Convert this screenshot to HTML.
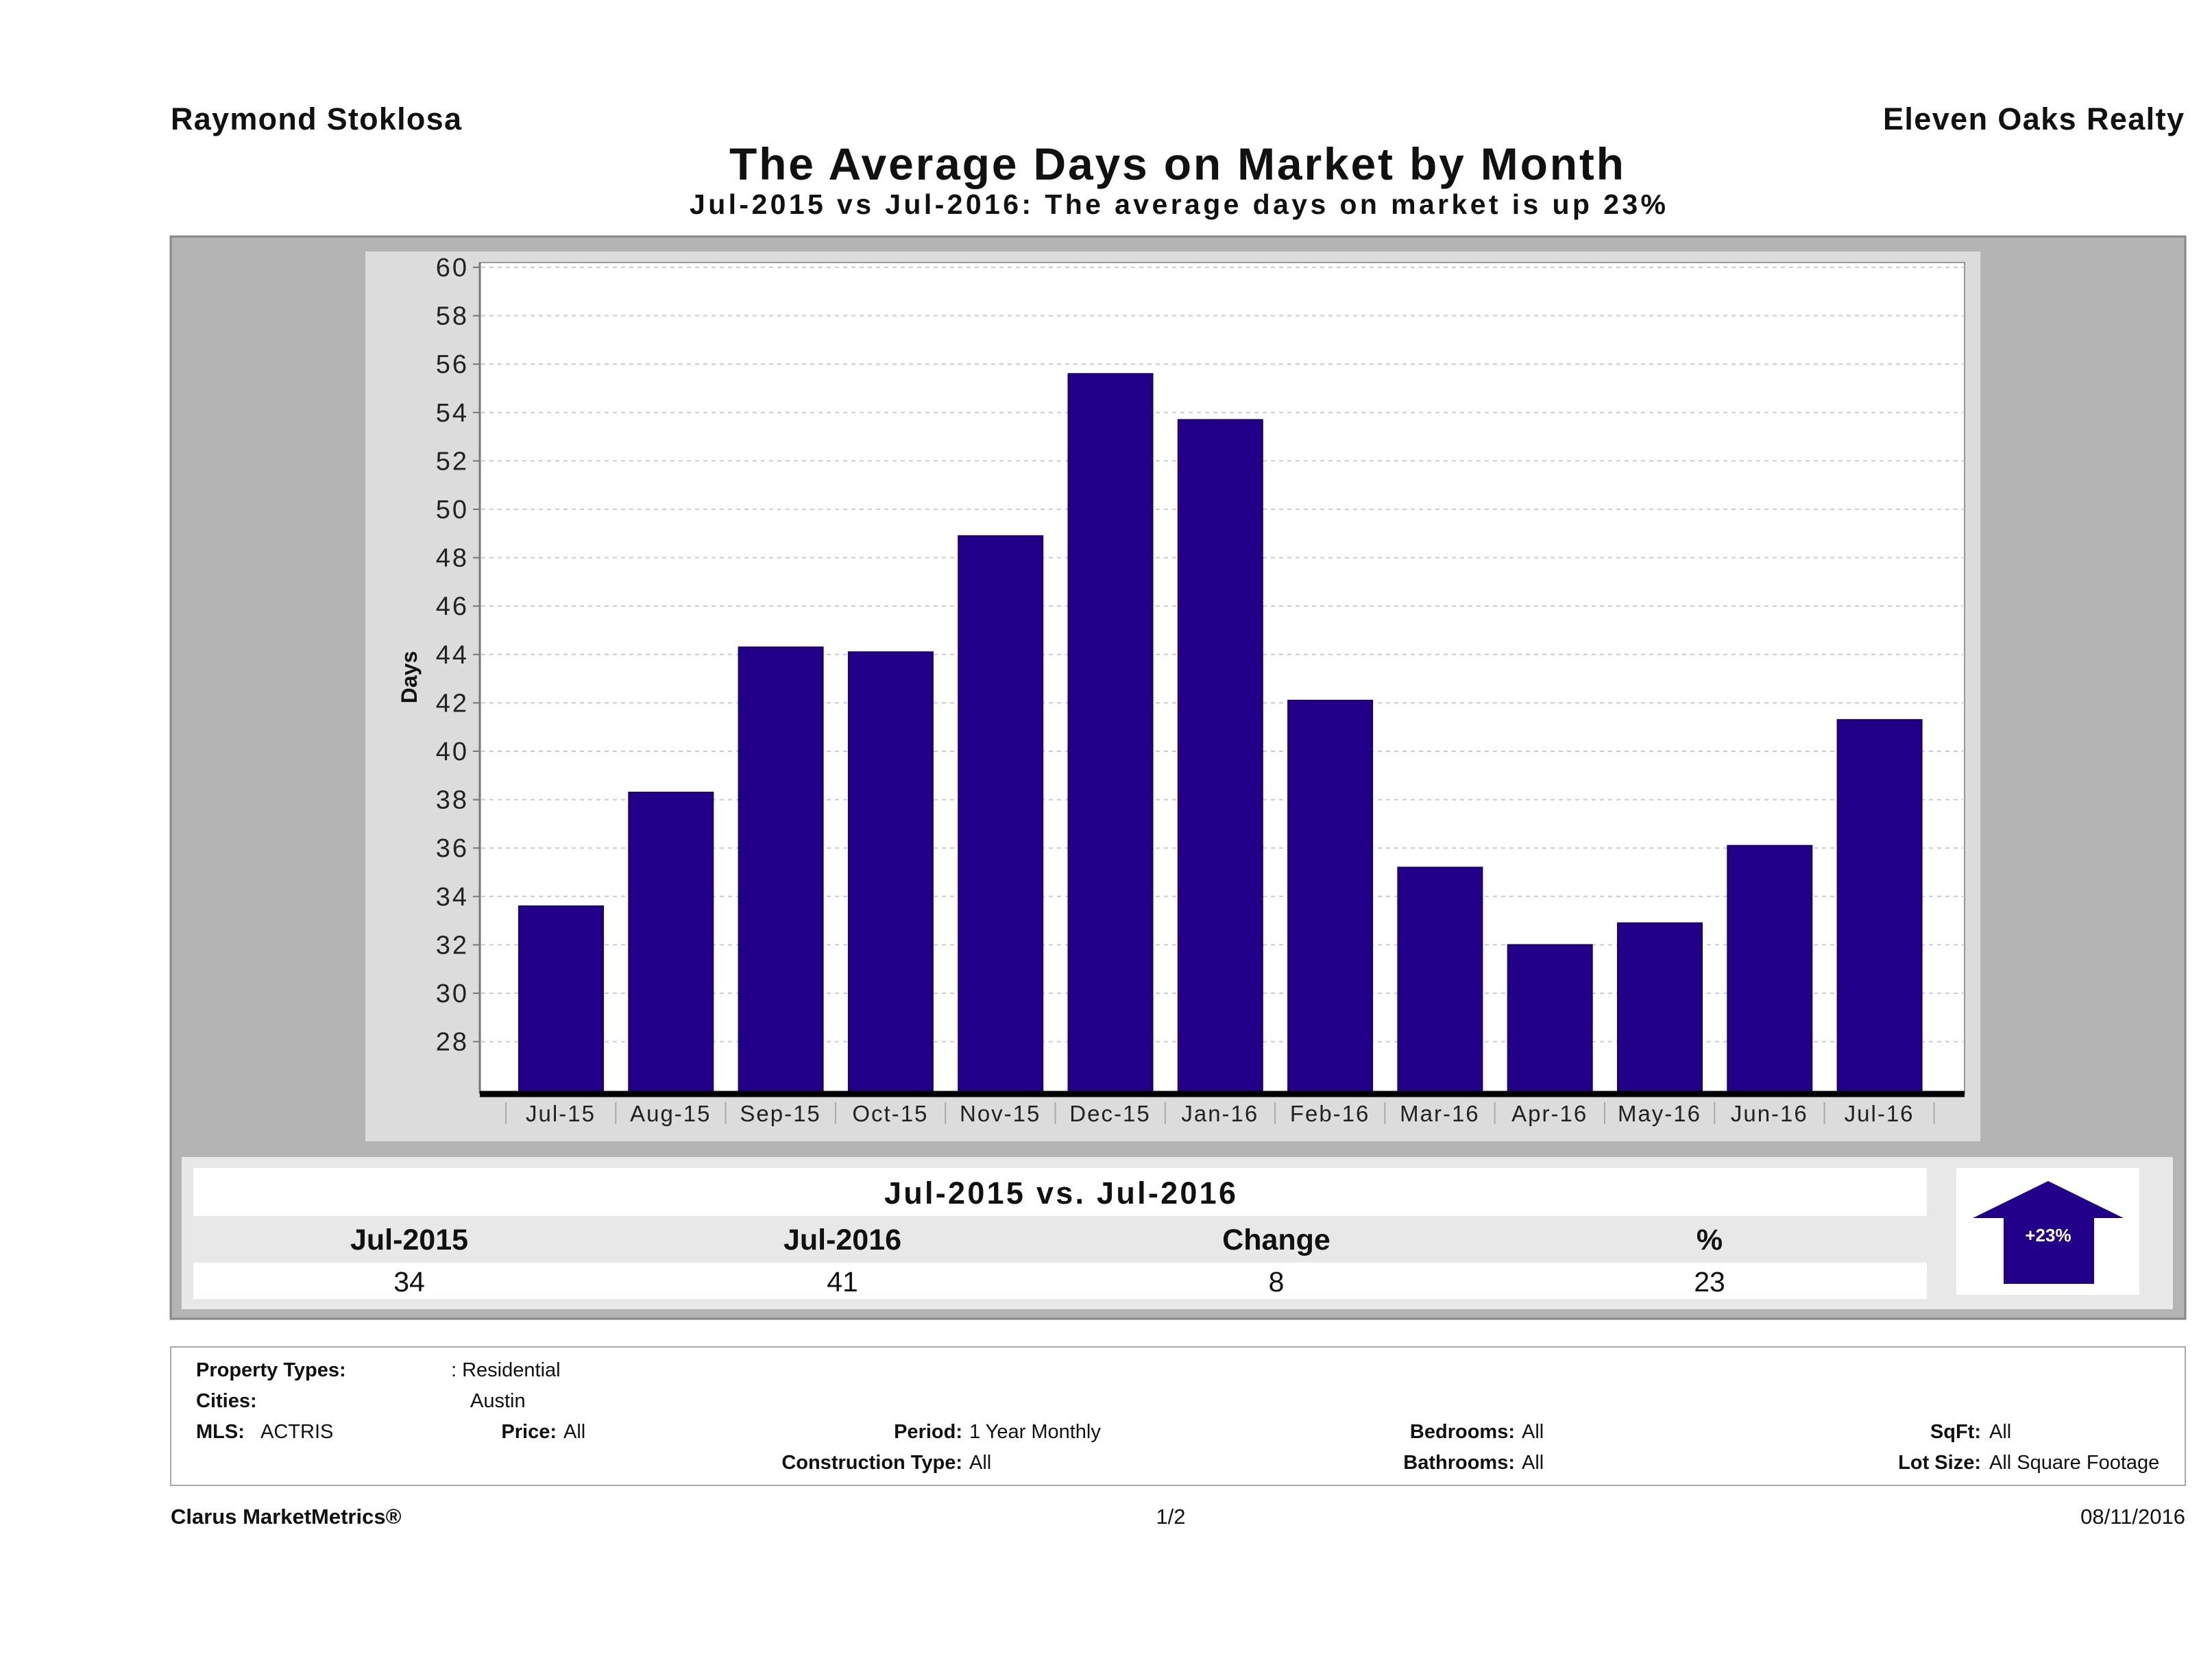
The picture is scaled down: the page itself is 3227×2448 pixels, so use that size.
<!DOCTYPE html>
<html><head><meta charset="utf-8"><style>
body{margin:0;background:#fff;}
svg{display:block;font-family:"Liberation Sans",sans-serif;}
</style></head><body>
<svg width="3227" height="2448" viewBox="0 0 3227 2448" xmlns="http://www.w3.org/2000/svg">
<text x="249" y="189" font-size="45" font-weight="bold" fill="#111" textLength="424" lengthAdjust="spacing">Raymond Stoklosa</text>
<text x="2747" y="189" font-size="45" font-weight="bold" fill="#111" textLength="439" lengthAdjust="spacing">Eleven Oaks Realty</text>
<text x="1064" y="262" font-size="66" font-weight="bold" fill="#111" textLength="1305" lengthAdjust="spacing">The Average Days on Market by Month</text>
<text x="1006" y="312" font-size="41" font-weight="bold" fill="#111" textLength="1424" lengthAdjust="spacing">Jul-2015 vs Jul-2016: The average days on market is up 23%</text>

<rect x="249" y="345" width="2939" height="1579" fill="#b4b4b4" stroke="#888" stroke-width="3"/>
<rect x="533" y="367" width="2356" height="1298" fill="#dcdcdc"/>
<rect x="700" y="383" width="2166" height="1212" fill="#fff" stroke="#999" stroke-width="2"/>
<g id="grid"></g>
<g id="yaxis"></g>
<g id="bars"></g>
<g id="xaxis"></g>
<line x1="700" y1="383" x2="700" y2="1595" stroke="#777" stroke-width="3"/>
<line x1="700" y1="1596" x2="2866" y2="1596" stroke="#000" stroke-width="9"/>
<text transform="translate(608,988) rotate(-90)" font-size="32" font-weight="bold" text-anchor="middle" fill="#111">Days</text>

<rect x="265" y="1688" width="2905" height="222" fill="#e8e8e8"/>
<rect x="282" y="1704" width="2529" height="70" fill="#fff"/>
<text x="1290" y="1756" font-size="45" font-weight="bold" fill="#111" textLength="513" lengthAdjust="spacing">Jul-2015 vs. Jul-2016</text>
<g font-size="43" font-weight="bold" text-anchor="middle" fill="#111">
<text x="597" y="1823">Jul-2015</text>
<text x="1229" y="1823">Jul-2016</text>
<text x="1862" y="1823">Change</text>
<text x="2494" y="1823">%</text>
</g>
<rect x="282" y="1842" width="2529" height="53" fill="#fff"/>
<g font-size="41" text-anchor="middle" fill="#111">
<text x="597" y="1884">34</text>
<text x="1229" y="1884">41</text>
<text x="1862" y="1884">8</text>
<text x="2494" y="1884">23</text>
</g>
<rect x="2854" y="1704" width="267" height="185" fill="#fff"/>
<polygon points="2988,1723 3098,1777 3055,1777 3055,1873 2923,1873 2923,1777 2878,1777" fill="#22008a"/>
<text x="2988" y="1811" font-size="26" font-weight="bold" fill="#fff" text-anchor="middle">+23%</text>

<rect x="249" y="1965" width="2939" height="202" fill="#fff" stroke="#aaa" stroke-width="2"/>
<g font-size="29" fill="#111">
<text x="286" y="2008" font-weight="bold">Property Types:</text><text x="658" y="2008">: Residential</text>
<text x="286" y="2053" font-weight="bold">Cities:</text><text x="686" y="2053">Austin</text>
<text x="286" y="2098" font-weight="bold">MLS:</text><text x="380" y="2098">ACTRIS</text>
<text x="812" y="2098" font-weight="bold" text-anchor="end">Price:</text><text x="822" y="2098">All</text>
<text x="1404" y="2098" font-weight="bold" text-anchor="end">Period:</text><text x="1414" y="2098">1 Year Monthly</text>
<text x="1404" y="2143" font-weight="bold" text-anchor="end">Construction Type:</text><text x="1414" y="2143">All</text>
<text x="2210" y="2098" font-weight="bold" text-anchor="end">Bedrooms:</text><text x="2220" y="2098">All</text>
<text x="2210" y="2143" font-weight="bold" text-anchor="end">Bathrooms:</text><text x="2220" y="2143">All</text>
<text x="2890" y="2098" font-weight="bold" text-anchor="end">SqFt:</text><text x="2902" y="2098">All</text>
<text x="2890" y="2143" font-weight="bold" text-anchor="end">Lot Size:</text><text x="2902" y="2143">All Square Footage</text>
</g>
<text x="249" y="2223" font-size="31" font-weight="bold" fill="#111">Clarus MarketMetrics®</text>
<text x="1708" y="2223" font-size="31" fill="#111" text-anchor="middle">1/2</text>
<text x="3188" y="2223" font-size="31" fill="#111" text-anchor="end">08/11/2016</text>
</svg>
<script>
const categories=["Jul-15","Aug-15","Sep-15","Oct-15","Nov-15","Dec-15","Jan-16","Feb-16","Mar-16","Apr-16","May-16","Jun-16","Jul-16"];
const daysOnMarket=[33.6,38.3,44.3,44.1,48.9,55.6,53.7,42.1,35.2,32.0,32.9,36.1,41.3];
const yTicks=[28,30,32,34,36,38,40,42,44,46,48,50,52,54,56,58,60];
const NS="http://www.w3.org/2000/svg";
function y(v){return 390+(60-v)*35.3;}
function xc(i){return 818+i*160.3;}
function mk(t,a,p){const e=document.createElementNS(NS,t);for(const k in a)e.setAttribute(k,a[k]);p.appendChild(e);return e;}
const grid=document.getElementById('grid'),ya=document.getElementById('yaxis'),bars=document.getElementById('bars'),xa=document.getElementById('xaxis');
yTicks.forEach(v=>{
 const g=mk('line',{x1:702,x2:2864,y1:y(v),y2:y(v),stroke:'#ccc','stroke-width':2,'stroke-dasharray':'6,6'},grid);
 
 
 const tk=mk('line',{x1:690,x2:700,y1:y(v),y2:y(v),stroke:'#777','stroke-width':2},ya);
 
 
 const t=mk('text',{x:684,y:y(v)+13,'font-size':38,'text-anchor':'end','letter-spacing':3,fill:'#222'},ya);
 
 
 t.textContent=v;
});
const base=1595;
daysOnMarket.forEach((v,i)=>{
 const r=mk('rect',{x:xc(i)-61,y:y(v),width:123,height:base-y(v),fill:'#22008a',stroke:'#1a0066','stroke-width':2},bars);
 
 
});
categories.forEach((c,i)=>{
 const s=mk('line',{x1:xc(i)-80,x2:xc(i)-80,y1:1608,y2:1640,stroke:'#aaa','stroke-width':2},xa);
 
 
 const t=mk('text',{x:xc(i),y:1636,'font-size':33,'text-anchor':'middle','letter-spacing':2,fill:'#222'},xa);
 
 
 t.textContent=c;
});
const last=mk('line',{x1:xc(categories.length-1)+80,x2:xc(categories.length-1)+80,y1:1608,y2:1640,stroke:'#aaa','stroke-width':2},xa);


</script>
</body></html>
